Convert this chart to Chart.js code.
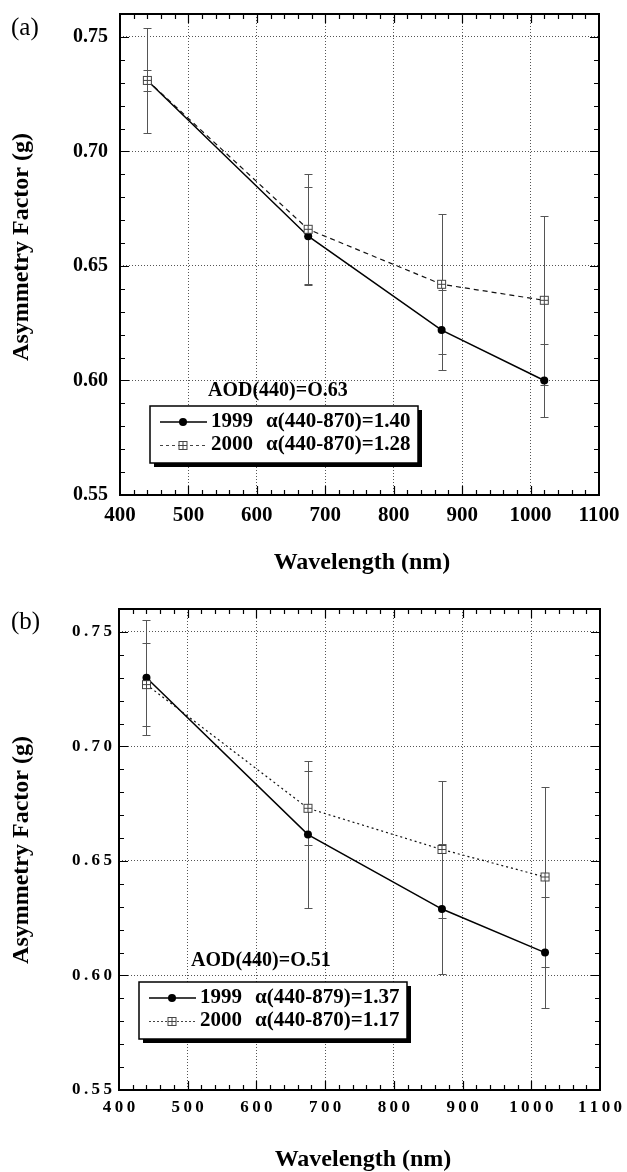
<!DOCTYPE html>
<html>
<head>
<meta charset="utf-8">
<script src="https://cdn.jsdelivr.net/npm/chart.js@4.4.1/dist/chart.umd.min.js"></script>
<style>
  html, body { margin: 0; padding: 0; background: #fff; }
  .panel { position: relative; width: 627px; height: 586px; }
  canvas { display: block; }
</style>
</head>
<body>
<div class="panel"><canvas id="chart-a" width="627" height="586"></canvas></div>
<div class="panel"><canvas id="chart-b" width="627" height="586"></canvas></div>
<script>
const FONT = "'Liberation Serif', 'Times New Roman', serif";

// Data
const wavelengths = [440, 675, 870, 1020];
const xTickValues = [400, 500, 600, 700, 800, 900, 1000, 1100];
const yTickValues = [0.55, 0.60, 0.65, 0.70, 0.75];
const years = ['1999', '2000'];

// (a) AOD(440)=0.63
const gA1999 = [0.731, 0.663, 0.622, 0.600];
const gA2000 = [0.731, 0.666, 0.642, 0.635];
const errA1999 = [0.023, 0.0215, 0.0175, 0.016];
const errA2000 = [0.0047, 0.024, 0.0305, 0.037];
const alphaA = ['\u03B1(440-870)=1.40', '\u03B1(440-870)=1.28'];
const aodA = 'AOD(440)=O.63';

// (b) AOD(440)=0.51
const gB1999 = [0.730, 0.6615, 0.629, 0.610];
const gB2000 = [0.727, 0.673, 0.655, 0.643];
const errB1999 = [0.025, 0.032, 0.0285, 0.0242];
const errB2000 = [0.018, 0.0162, 0.030, 0.0394];
const alphaB = ['\u03B1(440-879)=1.37', '\u03B1(440-870)=1.17'];
const aodB = 'AOD(440)=O.51';

const xTitle = 'Wavelength (nm)';
const yTitle = 'Asymmetry Factor (g)';

// square-with-cross marker used for the 2000 series
function squareMarker() {
    const c = document.createElement('canvas');
    c.width = 11;
    c.height = 11;
    const g = c.getContext('2d');
    g.fillStyle = '#fff';
    g.fillRect(1.5, 1.5, 8, 8);
    g.strokeStyle = '#444';
    g.lineWidth = 1;
    g.strokeRect(1.5, 1.5, 8, 8);
    g.beginPath();
    g.moveTo(5.5, 1.5); g.lineTo(5.5, 9.5);
    g.moveTo(1.5, 5.5); g.lineTo(9.5, 5.5);
    g.stroke();
    return c;
}
const marker = squareMarker();

function spaced(s) {
    return String(s).split('').join('\u2009');
}

function panelDecor(p) {
    return {
        id: 'decor',
        beforeDatasetsDraw(chart) {
            // error bars
            const { ctx, scales: { x, y } } = chart;
            ctx.save();
            ctx.strokeStyle = '#555';
            ctx.lineWidth = 1;
            [[p.g1999, p.e1999], [p.g2000, p.e2000]].forEach(([g, e]) => {
                wavelengths.forEach((w, i) => {
                    const px = Math.round(x.getPixelForValue(w)) + 0.5;
                    const hi = Math.round(y.getPixelForValue(g[i] + e[i])) + 0.5;
                    const lo = Math.round(y.getPixelForValue(g[i] - e[i])) + 0.5;
                    ctx.beginPath();
                    ctx.moveTo(px, hi); ctx.lineTo(px, lo);
                    ctx.moveTo(px - 4, hi); ctx.lineTo(px + 4, hi);
                    ctx.moveTo(px - 4, lo); ctx.lineTo(px + 4, lo);
                    ctx.stroke();
                });
            });
            ctx.restore();
        },
        afterDatasetsDraw(chart) {
            // frame and inward ticks
            const { ctx, chartArea: a, scales: { x, y } } = chart;
            ctx.save();
            ctx.strokeStyle = '#000';
            ctx.lineWidth = 1.2;
            ctx.beginPath();
            const x0 = xTickValues[0], x1 = xTickValues[xTickValues.length - 1];
            for (let v = x0 + 20; v < x1; v += 20) {
                const px = Math.round(x.getPixelForValue(v)) + 0.5;
                const len = v % 100 === 0 ? 9 : 5;
                ctx.moveTo(px, a.bottom); ctx.lineTo(px, a.bottom - len);
                ctx.moveTo(px, a.top); ctx.lineTo(px, a.top + len);
            }
            for (let k = 56; k < 76; k++) {
                const py = Math.round(y.getPixelForValue(k / 100)) + 0.5;
                const len = k % 5 === 0 ? 9 : 5;
                ctx.moveTo(a.left, py); ctx.lineTo(a.left + len, py);
                ctx.moveTo(a.right, py); ctx.lineTo(a.right - len, py);
            }
            ctx.stroke();
            ctx.lineWidth = 2;
            ctx.strokeRect(a.left, a.top, a.right - a.left, a.bottom - a.top);
            ctx.restore();
        },
        afterDraw(chart) {
            const { ctx } = chart;
            ctx.save();
            ctx.fillStyle = '#000';
            ctx.textBaseline = 'middle';

            // panel letter
            ctx.textAlign = 'left';
            ctx.font = `25px ${FONT}`;
            ctx.fillText(p.letter, 11, p.letterY);

            // axis titles
            ctx.textAlign = 'center';
            ctx.font = `bold ${p.xTitleSize}px ${FONT}`;
            ctx.fillText(xTitle, p.xTitlePos[0], p.xTitlePos[1]);
            ctx.save();
            ctx.translate(p.yTitlePos[0], p.yTitlePos[1]);
            ctx.rotate(-Math.PI / 2);
            ctx.font = `bold ${p.yTitleSize}px ${FONT}`;
            ctx.fillText(yTitle, 0, 0);
            ctx.restore();

            // AOD annotation
            ctx.textAlign = 'left';
            ctx.font = `bold 20px ${FONT}`;
            ctx.fillText(p.aod, p.aodPos[0], p.aodPos[1]);

            // legend box with drop shadow
            const L = p.legend;
            ctx.fillStyle = '#000';
            ctx.fillRect(L.left + 4, L.top + 4, L.w, L.h);
            ctx.fillStyle = '#fff';
            ctx.fillRect(L.left, L.top, L.w, L.h);
            ctx.strokeStyle = '#000';
            ctx.lineWidth = 1.5;
            ctx.strokeRect(L.left, L.top, L.w, L.h);

            const rows = [L.top + 16, L.top + 39];
            // 1999 row
            ctx.beginPath();
            ctx.lineWidth = 1.3;
            ctx.moveTo(L.left + 10, rows[0]); ctx.lineTo(L.left + 57, rows[0]);
            ctx.stroke();
            ctx.beginPath();
            ctx.fillStyle = '#000';
            ctx.arc(L.left + 33, rows[0], 4, 0, Math.PI * 2);
            ctx.fill();
            // 2000 row
            ctx.beginPath();
            ctx.lineWidth = 1;
            ctx.strokeStyle = '#444';
            ctx.setLineDash(p.legendDash);
            ctx.moveTo(L.left + 10, rows[1] + 0.5); ctx.lineTo(L.left + 57, rows[1] + 0.5);
            ctx.stroke();
            ctx.setLineDash([]);
            ctx.drawImage(marker, L.left + 33 - 5.5, rows[1] - 5);

            ctx.fillStyle = '#000';
            ctx.font = `bold 21px ${FONT}`;
            years.forEach((yr, i) => {
                ctx.fillText(yr, L.left + 61, rows[i]);
                ctx.fillText(p.alpha[i], L.left + 116, rows[i]);
            });
            ctx.restore();
        }
    };
}

function makeChart(p) {
    const fmtX = p.spacedTicks ? v => spaced(v) : v => String(v);
    const fmtY = p.spacedTicks ? v => spaced(v.toFixed(2)) : v => v.toFixed(2);
    return new Chart(document.getElementById(p.id), {
        type: 'line',
        data: {
            datasets: [
                {
                    label: '2000',
                    data: wavelengths.map((w, i) => ({ x: w, y: p.g2000[i] })),
                    borderColor: '#111',
                    borderWidth: 1.2,
                    borderDash: p.lineDash,
                    pointStyle: marker,
                    pointRadius: 5,
                    order: 0
                },
                {
                    label: '1999',
                    data: wavelengths.map((w, i) => ({ x: w, y: p.g1999[i] })),
                    borderColor: '#000',
                    borderWidth: 1.5,
                    pointStyle: 'circle',
                    pointRadius: 4,
                    pointBackgroundColor: '#000',
                    pointBorderWidth: 0,
                    order: 1
                }
            ]
        },
        options: {
            responsive: false,
            animation: false,
            layout: { padding: { top: p.padTop, right: p.padRight, left: 0, bottom: 0 } },
            plugins: { legend: { display: false }, tooltip: { enabled: false } },
            scales: {
                x: {
                    type: 'linear',
                    min: 400,
                    max: 1100,
                    afterFit: s => { s.height = p.xHeight; s.paddingLeft = 0; s.paddingRight = 0; },
                    afterBuildTicks: s => { s.ticks = xTickValues.map(v => ({ value: v })); },
                    grid: { color: '#555', lineWidth: 1, drawTicks: false },
                    border: { display: false, dash: [1, 2] },
                    ticks: {
                        color: '#000',
                        padding: p.xTickPad,
                        maxRotation: 0,
                        font: { family: FONT, weight: 'bold', size: p.xTickSize },
                        callback: fmtX
                    }
                },
                y: {
                    type: 'linear',
                    min: 0.55,
                    max: 0.76,
                    afterFit: s => { s.width = p.yWidth; s.paddingTop = 0; s.paddingBottom = 0; },
                    afterBuildTicks: s => { s.ticks = yTickValues.map(v => ({ value: v })); },
                    grid: { color: '#555', lineWidth: 1, drawTicks: false },
                    border: { display: false, dash: [1, 2] },
                    ticks: {
                        color: '#000',
                        padding: p.yTickPad,
                        font: { family: FONT, weight: 'bold', size: p.yTickSize },
                        callback: fmtY
                    }
                }
            }
        },
        plugins: [panelDecor(p)]
    });
}

makeChart({
    id: 'chart-a', letter: '(a)', letterY: 28,
    g1999: gA1999, g2000: gA2000, e1999: errA1999, e2000: errA2000,
    alpha: alphaA, aod: aodA, aodPos: [208, 391],
    lineDash: [5, 4], legendDash: [3, 3],
    padTop: 14, padRight: 28, yWidth: 120, xHeight: 91,
    xTickSize: 21, yTickSize: 20, xTickPad: 8, yTickPad: 12, spacedTicks: false,
    xTitleSize: 24, xTitlePos: [362, 563],
    yTitleSize: 24, yTitlePos: [22, 247],
    legend: { left: 150, top: 406, w: 268, h: 57 }
});

makeChart({
    id: 'chart-b', letter: '(b)', letterY: 36,
    g1999: gB1999, g2000: gB2000, e1999: errB1999, e2000: errB2000,
    alpha: alphaB, aod: aodB, aodPos: [191, 375],
    lineDash: [2, 3], legendDash: [2, 2],
    padTop: 23, padRight: 27, yWidth: 119, xHeight: 82,
    xTickSize: 17, yTickSize: 17, xTickPad: 7, yTickPad: 7, spacedTicks: true,
    xTitleSize: 24, xTitlePos: [363, 574],
    yTitleSize: 24, yTitlePos: [22, 264],
    legend: { left: 139, top: 396, w: 268, h: 57 }
});
</script>
</body>
</html>
